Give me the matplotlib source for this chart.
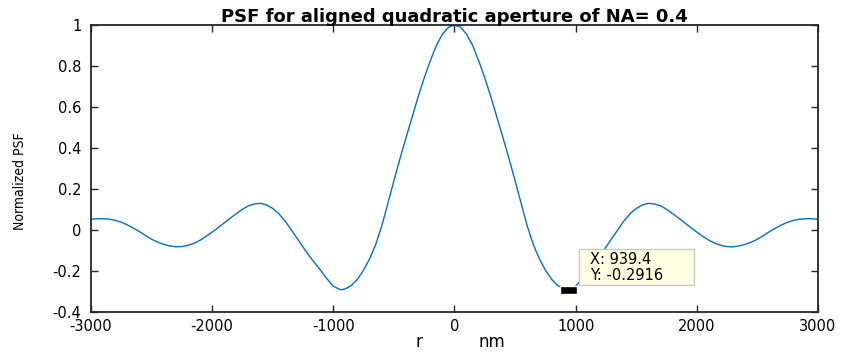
import matplotlib
matplotlib.use("Agg")
import matplotlib.pyplot as plt
from matplotlib.patches import Rectangle

# ---- data ----
r_nm = [-3000, -2950, -2900, -2850, -2800, -2750, -2700, -2650, -2600, -2550,
        -2500, -2450, -2400, -2350, -2300, -2250, -2200, -2150, -2100, -2050,
        -2000, -1950, -1900, -1850, -1800, -1750, -1700, -1650, -1600, -1550,
        -1500, -1450, -1400, -1350, -1300, -1250, -1200, -1150, -1100, -1050,
        -1000, -939.4, -900, -850, -800, -750, -700, -650, -600, -550,
        -500, -450, -400, -350, -300, -250, -200, -150, -100, -50,
        0,
        50, 100, 150, 200, 250, 300, 350, 400, 450, 500,
        550, 600, 650, 700, 750, 800, 850, 900, 939.4, 1000,
        1050, 1100, 1150, 1200, 1250, 1300, 1350, 1400, 1450, 1500,
        1550, 1600, 1650, 1700, 1750, 1800, 1850, 1900, 1950, 2000,
        2050, 2100, 2150, 2200, 2250, 2300, 2350, 2400, 2450, 2500,
        2550, 2600, 2650, 2700, 2750, 2800, 2850, 2900, 2950, 3000]
psf = [0.052, 0.055, 0.055, 0.053, 0.047, 0.038, 0.025, 0.009, -0.008, -0.027,
       -0.045, -0.059, -0.070, -0.078, -0.082, -0.081, -0.075, -0.065, -0.050, -0.031,
       -0.010, 0.012, 0.035, 0.058, 0.080, 0.101, 0.118, 0.127, 0.130, 0.122,
       0.105, 0.080, 0.045, 0.003, -0.040, -0.083, -0.125, -0.163, -0.200, -0.240,
       -0.275, -0.2916, -0.287, -0.270, -0.240, -0.195, -0.140, -0.070, 0.020, 0.130,
       0.240, 0.348, 0.450, 0.550, 0.650, 0.742, 0.825, 0.900, 0.955, 0.989,
       1.000,
       0.989, 0.955, 0.900, 0.825, 0.742, 0.650, 0.550, 0.450, 0.348, 0.240,
       0.130, 0.020, -0.070, -0.140, -0.195, -0.240, -0.270, -0.287, -0.2916, -0.275,
       -0.240, -0.200, -0.163, -0.125, -0.083, -0.040, 0.003, 0.045, 0.080, 0.105,
       0.122, 0.130, 0.127, 0.118, 0.101, 0.080, 0.058, 0.035, 0.012, -0.010,
       -0.031, -0.050, -0.065, -0.075, -0.081, -0.082, -0.078, -0.070, -0.059, -0.045,
       -0.027, -0.008, 0.009, 0.025, 0.038, 0.047, 0.053, 0.055, 0.055, 0.052]

x_ticks = [-3000, -2000, -1000, 0, 1000, 2000, 3000]
y_ticks = [-0.4, -0.2, 0, 0.2, 0.4, 0.6, 0.8, 1]
y_tick_labels = ["-0.4", "-0.2", "0", "0.2", "0.4", "0.6", "0.8", "1"]

tip_x = 939.4
tip_y = -0.2916

title = "PSF for aligned quadratic aperture of NA= 0.4"
ylabel = "Normalized PSF"

# ---- figure ----
W, H = 848, 353
fig = plt.figure(figsize=(W / 100, H / 100), dpi=100)
fig.patch.set_facecolor("white")
L, R, T, B = 91, 818, 25, 312
ax = fig.add_axes([L / W, (H - B) / H, (R - L) / W, (B - T) / H])

ax.plot(r_nm, psf, color="#0072BD", lw=1.0)

ax.set_xlim(-3000, 3000)
ax.set_ylim(-0.4, 1)
ax.set_xticks(x_ticks)
ax.set_xticklabels([str(v) for v in x_ticks])
ax.set_yticks(y_ticks)
ax.set_yticklabels(y_tick_labels)

dark = "#262626"
for s in ax.spines.values():
    s.set_linewidth(1.3)
    s.set_color(dark)
ax.tick_params(direction="in", length=5, width=1.0, colors=dark,
               top=True, right=True, labelsize=10.5)
ax.tick_params(axis="x", pad=5)
ax.tick_params(axis="y", pad=7)
for lab in ax.get_xticklabels() + ax.get_yticklabels():
    lab.set_color("black")

ax.set_title(title, fontsize=13, fontweight="bold", pad=2)

# y label (narrow)
fig.text(20 / W, 1 - 181 / H, ylabel, rotation=90, ha="center", va="center",
         fontsize=10, fontstretch="condensed")

# x label pieces
fig.text(419 / W, 1 - 342 / H, "r", ha="center", va="center", fontsize=12)
fig.text(492 / W, 1 - 342 / H, "nm", ha="center", va="center", fontsize=12)

# data tip marker (black square)
nm_per_px = 6000 / (R - L)
val_per_px = 1.4 / (B - T)
mw, mh = 17 * nm_per_px, 8 * val_per_px
ax.add_patch(Rectangle((tip_x - mw / 2, tip_y - mh / 2), mw, mh,
                       facecolor="black", edgecolor="#FFFFE1", lw=1.0, zorder=5))

# data tip box
bx0, by0, bx1, by1 = 579, 249, 694, 285
ax.add_patch(Rectangle((bx0 / W, 1 - by1 / H), (bx1 - bx0) / W, (by1 - by0) / H,
                       transform=fig.transFigure, facecolor="#FFFFE1",
                       edgecolor="#C8C8C8", lw=1.0, zorder=6, clip_on=False))
fig.text(590 / W, 1 - 259 / H, "X: %.1f" % tip_x, ha="left", va="center",
         fontsize=10.5, zorder=7)
fig.text(590 / W, 1 - 275.5 / H, "Y: %.4f" % tip_y, ha="left", va="center",
         fontsize=10.5, zorder=7)

fig.savefig("out.png", dpi=100)
